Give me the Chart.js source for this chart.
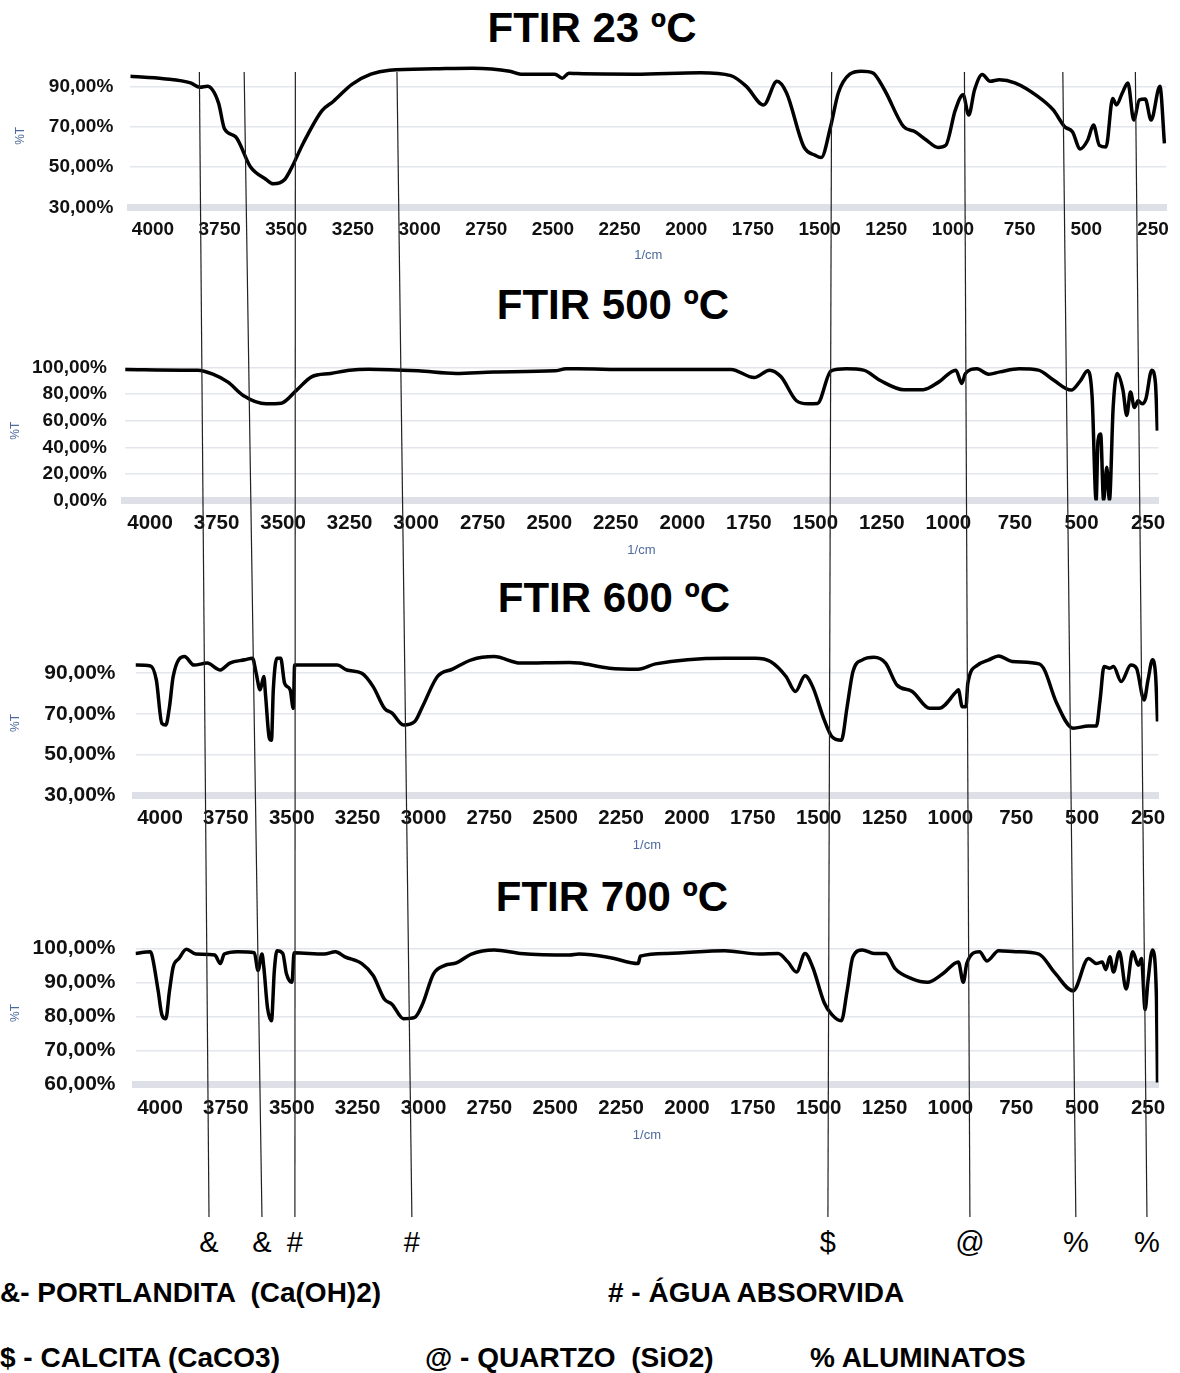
<!DOCTYPE html>
<html>
<head>
<meta charset="utf-8">
<script src="https://cdn.jsdelivr.net/npm/chart.js@4.4.1/dist/chart.umd.min.js"></script>
<style>
    body {
        margin: 0;
        background: #fff;
        width: 1180px;
        height: 1373px;
        position: relative;
        overflow: hidden;
        font-family: "Liberation Sans", Arial, sans-serif;
        color: #000;
    }
    canvas { position: absolute; left: 0; }
    #overlay { top: 0; z-index: 10; pointer-events: none; }
    .title {
        position: absolute;
        font-weight: bold;
        font-size: 42px;
        white-space: nowrap;
        transform: translate(-50%, -50%);
    }
    .sym {
        position: absolute;
        font-size: 29px;
        transform: translate(-50%, -50%);
    }
    .leg {
        position: absolute;
        font-weight: bold;
        font-size: 28px;
        white-space: pre;
        transform: translateY(-50%);
    }
</style>
</head>
<body>

<div class="title" style="left:592px; top:28px;">FTIR 23 ºC</div>
<div class="title" style="left:613px; top:305px;">FTIR 500 ºC</div>
<div class="title" style="left:614px; top:598px;">FTIR 600 ºC</div>
<div class="title" style="left:612px; top:897px;">FTIR 700 ºC</div>

<canvas id="c23"></canvas>
<canvas id="c500"></canvas>
<canvas id="c600"></canvas>
<canvas id="c700"></canvas>
<canvas id="overlay" width="1180" height="1373"></canvas>

<div class="leg" style="left:0px; top:1293px;">&amp;- PORTLANDITA  (Ca(OH)2)</div>
<div class="leg" style="left:608px; top:1293px;"># - ÁGUA ABSORVIDA</div>
<div class="leg" style="left:0px; top:1358px;">$ - CALCITA (CaCO3)</div>
<div class="leg" style="left:425px; top:1358px;">@ - QUARTZO  (SiO2)</div>
<div class="leg" style="left:810px; top:1358px;">% ALUMINATOS</div>

<script>
// x tick labels (1/cm), same on every panel
const xTicks = [4000, 3750, 3500, 3250, 3000, 2750, 2500, 2250, 2000, 1750, 1500, 1250, 1000, 750, 500, 250];

// FTIR 23 ºC
const wn23 = [4085, 3960, 3859, 3824, 3796, 3754, 3732, 3690, 3634, 3577, 3549, 3507, 3479, 3437, 3366, 3324, 3254, 3183, 3113, 2944,
    2803, 2662, 2620, 2493, 2465, 2440, 2408, 2192, 1948, 1833, 1775, 1710, 1660, 1624, 1559, 1516, 1494, 1459, 1430, 1387,
    1344, 1301, 1257, 1185, 1142, 1099, 1056, 1027, 991, 962, 941, 919, 890, 861, 826, 768, 682, 624, 581, 552,
    523, 495, 473, 451, 426, 401, 387, 365, 344, 322, 301, 279, 257, 224, 207];
const t23 = [95, 93.8, 91.7, 89.5, 90, 81.7, 69, 65, 50, 44, 41.7, 43.7, 50, 61.7, 78, 82.5, 91, 96, 98, 98.7,
    99, 97.5, 96, 96, 94, 96.5, 96.3, 96, 96.7, 95.3, 90, 80.8, 92.5, 86.7, 60, 55.8, 54.7, 70, 86.7, 96,
    97.5, 96.7, 88.3, 70, 67.5, 63.3, 59.7, 60.8, 78.3, 85.8, 75.8, 88.3, 95.8, 92.5, 93.3, 91.7, 85, 78.3, 70, 67.5,
    59, 63.3, 70.8, 60.8, 60, 84, 80.8, 86.7, 91.7, 73.3, 83.3, 83.7, 73.3, 90, 61.7];

// FTIR 500 ºC
const wn500 = [4093, 3879, 3821, 3764, 3707, 3650, 3564, 3507, 3450, 3393, 3321, 3250, 3179, 2993, 2850, 2707, 2479, 2436, 2394, 2207,
    1817, 1730, 1672, 1629, 1571, 1528, 1492, 1441, 1384, 1319, 1254, 1167, 1095, 1037, 972, 950, 936, 893, 849, 806,
    734, 662, 604, 539, 503, 477, 460, 445, 438, 428, 417, 405, 395, 381, 366, 344, 330, 316, 301, 287,
    272, 258, 236, 222, 215];
const t500 = [98.5, 98, 98, 95, 89, 79, 72.7, 73.2, 82.8, 93, 95.5, 98, 98.7, 97.5, 95.5, 96.7, 97.5, 99, 99, 98.5,
    98.5, 92.4, 98, 93, 75, 72.7, 73, 97.5, 99, 98, 90, 83.3, 83.3, 89, 98, 88, 95.5, 99, 95, 96.7,
    99, 98, 90.4, 83, 90.4, 97.5, 77.8, 0, 45, 50, 0, 25, 0, 70, 95.5, 82.8, 64, 81.6, 70, 75,
    72.7, 76.5, 98, 88, 52.5];

// FTIR 600 ºC
const wn600 = [4093, 4036, 4014, 3993, 3978, 3964, 3950, 3907, 3871, 3821, 3771, 3735, 3678, 3649, 3635, 3620, 3606, 3599, 3585, 3577,
    3570, 3556, 3542, 3527, 3506, 3494, 3489, 3377, 3327, 3291, 3234, 3191, 3148, 3119, 3076, 3033, 3004, 2947, 2890, 2818,
    2732, 2632, 2446, 2410, 2294, 2185, 2119, 1857, 1741, 1683, 1624, 1588, 1552, 1523, 1479, 1450, 1414, 1392, 1370, 1334,
    1290, 1246, 1203, 1145, 1079, 1043, 977, 970, 955, 941, 934, 897, 854, 817, 766, 664, 643, 599, 534, 476,
    446, 432, 417, 395, 381, 352, 315, 294, 265, 250, 233, 221, 214];
const t600 = [94, 93.6, 86.7, 65.3, 64.5, 73.5, 88.4, 98.2, 94, 95, 91.6, 95, 96.6, 97.4, 90, 81.8, 88.4, 78.5, 58, 57,
    81.8, 97.4, 97.4, 85, 81.8, 72.7, 94, 94, 94, 91.6, 90, 83.4, 72.7, 70.3, 64.5, 66.2, 73.5, 88.4, 92, 96.6,
    98.2, 95, 95.3, 95, 92.5, 92, 94.6, 97.4, 97.4, 95.8, 88.4, 81, 88.7, 83.4, 67, 58.8, 57, 73.5, 90.8, 96.6,
    97.9, 95, 84.2, 81, 72.7, 72.7, 81, 81.8, 73.5, 73.5, 85, 94, 96.6, 98.5, 95.8, 94.6, 91.6, 76, 62.9, 64,
    64, 76.8, 93.3, 92.5, 93.3, 85.9, 94, 92.5, 76.8, 86.7, 96.6, 88.4, 66.2];

// FTIR 700 ºC
const wn700 = [4093, 4036, 4029, 4007, 3993, 3978, 3964, 3950, 3928, 3900, 3864, 3792, 3771, 3756, 3706, 3642, 3628, 3613, 3606, 3592,
    3577, 3566, 3556, 3534, 3520, 3499, 3491, 3377, 3334, 3298, 3234, 3191, 3148, 3119, 3076, 3033, 3004, 2962, 2919, 2875,
    2818, 2732, 2632, 2446, 2410, 2294, 2185, 2177, 2075, 1857, 1726, 1654, 1617, 1584, 1552, 1523, 1479, 1450, 1414, 1392,
    1370, 1334, 1290, 1246, 1210, 1145, 1087, 1029, 970, 951, 938, 890, 861, 817, 752, 664, 606, 534, 476, 446,
    424, 410, 395, 381, 359, 333, 308, 287, 275, 261, 250, 233, 218, 214];
const t700 = [98.5, 99, 97.5, 87.5, 80.5, 79.3, 87.5, 94.5, 97, 99.7, 98.3, 98, 95.5, 98.3, 99, 98.7, 93.5, 98.3, 94.5, 82.5,
    78.7, 93.5, 99.3, 98.5, 92.5, 90, 98.7, 98.3, 99, 97.5, 95.5, 92, 85, 83.5, 79.3, 79.7, 83.5, 92.5, 95, 95.7,
    98.3, 99.5, 98.5, 98, 98.3, 97.3, 95.5, 97.7, 98.5, 99.3, 98.3, 98.5, 96, 93, 98.5, 94.5, 84, 80.5, 78.7, 87.5,
    97.5, 99.5, 98.5, 98.5, 94, 91, 90, 92.5, 96, 90, 95.5, 99, 96.3, 99.3, 99, 98.3, 93, 87.5, 97, 95.5,
    96, 93.7, 97.5, 93, 99, 88, 99, 95, 97, 82, 90.5, 99.5, 85.5, 60.5];

// marker lines: wavenumber where each line meets the top of FTIR 23 and where it ends under FTIR 700
const markTop = [3826, 3658, 3466, 3085, 1455, 957, 588, 316];
const markBottom = [3814, 3613, 3488, 3044, 1465, 926, 524, 254];
const markSymbols = ["&", "&", "#", "#", "$", "@", "%", "%"];

const pctLabel = v => v.toFixed(2).replace(".", ",") + "%";

function makePanel(id, wn, t, o) {
    const canvas = document.getElementById(id);
    canvas.width = 1180;
    canvas.height = o.height;
    canvas.style.top = o.top + "px";
    const points = wn.map((w, i) => ({ x: w, y: t[i] }));

    return new Chart(canvas, {
        type: "line",
        data: {
            datasets: [{
                data: points,
                borderColor: "#000",
                borderWidth: 3.5,
                pointRadius: 0,
                cubicInterpolationMode: "monotone",
                fill: false,
            }],
        },
        options: {
            responsive: false,
            animation: false,
            events: [],
            layout: { padding: { top: o.padTop, right: 1180 - o.right, left: 0, bottom: 0 } },
            plugins: { legend: { display: false }, tooltip: { enabled: false } },
            scales: {
                x: {
                    type: "linear",
                    reverse: true,
                    min: o.xMin,
                    max: o.xMax,
                    afterBuildTicks: (s) => { s.ticks = xTicks.map(v => ({ value: v })); },
                    afterFit: (s) => {
                        s.height = o.top + o.height - o.bottomY;
                        s.paddingLeft = 0;
                        s.paddingRight = 0;
                    },
                    grid: { display: false, drawTicks: false },
                    border: { display: true, color: "#dde1e7", width: 7 },
                    ticks: {
                        autoSkip: false,
                        maxRotation: 0,
                        padding: o.xPad,
                        color: "#111",
                        font: { family: "Liberation Sans", size: o.xFont, weight: "bold" },
                        callback: v => String(v),
                    },
                    title: {
                        display: true,
                        text: "1/cm",
                        color: "#4e6a9c",
                        font: { family: "Liberation Sans", size: 13 },
                        padding: { top: 0, bottom: o.xTitlePad },
                    },
                },
                y: {
                    min: o.yMin,
                    max: o.yMax,
                    afterBuildTicks: (s) => { s.ticks = o.yTicks.map(v => ({ value: v })); },
                    afterFit: (s) => {
                        s.width = o.left;
                        s.paddingTop = 0;
                        s.paddingBottom = 0;
                    },
                    grid: { color: "#e3e6ec", lineWidth: 1.5, drawTicks: false },
                    border: { display: false },
                    ticks: {
                        padding: o.yPad,
                        color: "#111",
                        font: { family: "Liberation Sans", size: o.yFont, weight: "bold" },
                        callback: v => pctLabel(v),
                    },
                    title: {
                        display: true,
                        text: "%T",
                        color: "#4e6a9c",
                        font: { family: "Liberation Sans", size: 12 },
                        padding: { top: o.yTitlePad, bottom: 0 },
                    },
                },
            },
        },
    });
}

const c23 = makePanel("c23", wn23, t23, {
    top: 60, height: 210, padTop: 4.1, bottomY: 207.5, left: 130.3, right: 1166.3,
    xMin: 200, xMax: 4085, yMin: 30, yMax: 101, yTicks: [30, 50, 70, 90],
    yFont: 19, xFont: 19, yPad: 17, xPad: 11.1, yTitlePad: 13.8, xTitlePad: 7.2,
});
const c500 = makePanel("c500", wn500, t500, {
    top: 340, height: 220, padTop: 20.85, bottomY: 500.5, left: 124.5, right: 1158.4,
    xMin: 211, xMax: 4096, yMin: 0, yMax: 105, yTicks: [0, 20, 40, 60, 80, 100],
    yFont: 19, xFont: 20.5, yPad: 17.5, xPad: 10.5, yTitlePad: 8.8, xTitlePad: 1.5,
});
const c600 = makePanel("c600", wn600, t600, {
    top: 630, height: 225, padTop: 20.9, bottomY: 795, left: 135.5, right: 1158.3,
    xMin: 211, xMax: 4093, yMin: 30, yMax: 101, yTicks: [30, 50, 70, 90],
    yFont: 21, xFont: 20.5, yPad: 20, xPad: 11, yTitlePad: 8.8, xTitlePad: 2.2,
});
const c700 = makePanel("c700", wn700, t700, {
    top: 920, height: 230, padTop: 21.5, bottomY: 1084.3, left: 135.5, right: 1158.3,
    xMin: 211, xMax: 4093, yMin: 60, yMax: 102, yTicks: [60, 70, 80, 90, 100],
    yFont: 21, xFont: 20.5, yPad: 20, xPad: 11.7, yTitlePad: 8.8, xTitlePad: 7.2,
});

// slanted marker lines across all four panels, placed through the panel scales
const ctx = document.getElementById("overlay").getContext("2d");
ctx.strokeStyle = "#222";
ctx.lineWidth = 1.2;
markTop.forEach((w, i) => {
    const x1 = c23.scales.x.getPixelForValue(w);
    const x2 = c700.scales.x.getPixelForValue(markBottom[i]);
    ctx.beginPath();
    ctx.moveTo(x1, 72);
    ctx.lineTo(x2, 1217);
    ctx.stroke();

    const s = document.createElement("div");
    s.className = "sym";
    s.textContent = markSymbols[i];
    s.style.left = x2 + "px";
    s.style.top = "1242px";
    document.body.appendChild(s);
});
</script>
</body>
</html>
